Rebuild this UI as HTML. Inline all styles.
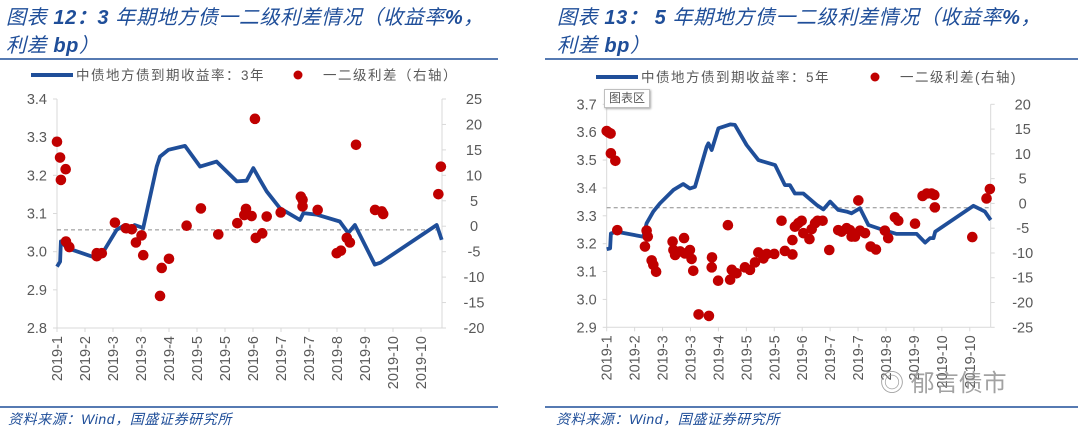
<!DOCTYPE html>
<html><head><meta charset="utf-8">
<style>
body{margin:0;background:#fff;width:1080px;height:429px;overflow:hidden;font-family:"Liberation Sans","Noto Sans CJK SC",sans-serif}
svg{position:absolute;left:0;top:0}
.t{font-family:"Liberation Sans","Noto Sans CJK SC",sans-serif;font-style:italic;fill:#1f4e99;font-size:20px;letter-spacing:0.6px}
.tk{font-family:"Liberation Sans",sans-serif;fill:#595959;font-size:14.5px}
.lg{font-family:"Liberation Sans","Noto Sans CJK SC",sans-serif;fill:#595959;font-size:13.5px;letter-spacing:1.5px}
</style></head><body>
<svg id="s" width="1080" height="429">
<text class="t" x="6" y="24">图表 <tspan font-weight="bold">12：3</tspan> 年期地方债一二级利差情况（收益率<tspan font-weight="bold">%</tspan>，</text>
<text class="t" x="6" y="52">利差 <tspan font-weight="bold">bp</tspan>）</text>
<line x1="0" y1="59" x2="498" y2="59" stroke="#1f4e99" stroke-width="1.5"/>
<text class="t" x="557" y="24">图表 <tspan font-weight="bold">13：</tspan>  <tspan font-weight="bold">5</tspan> 年期地方债一二级利差情况（收益率<tspan font-weight="bold">%</tspan>，</text>
<text class="t" x="557" y="52">利差 <tspan font-weight="bold">bp</tspan>）</text>
<line x1="545" y1="59" x2="1078" y2="59" stroke="#1f4e99" stroke-width="1.5"/>
<line x1="0" y1="407" x2="498" y2="407" stroke="#1f4e99" stroke-width="1.5"/>
<line x1="545" y1="407" x2="1078" y2="407" stroke="#1f4e99" stroke-width="1.5"/>
<text class="t" x="8" y="424" style="font-size:14px">资料来源：Wind，国盛证券研究所</text>
<text class="t" x="556" y="424" style="font-size:14px">资料来源：Wind，国盛证券研究所</text>
<g id="c1"></g><g id="c2"></g>
</svg>
<script>
const cats=["2019-1","2019-2","2019-3","2019-3","2019-4","2019-5","2019-5","2019-6","2019-7","2019-7","2019-8","2019-9","2019-10","2019-10"];
const catsB=["2019-1","2019-2","2019-3","2019-3","2019-4","2019-5","2019-5","2019-6","2019-7","2019-7","2019-8","2019-9","2019-10","2019-10"];
// chart 1: yield line [x index, value]
const line1X=[0,0.11,0.14,0.35,1.42,1.65,2.13,2.42,2.65,2.77,3.08,3.56,3.68,3.98,4.57,5.11,5.7,6.42,6.77,7.01,7.25,7.49,7.96,8.68,8.80,9.27,10.1,10.4,10.64,11.35,11.55,13.56,13.74];
const line1Y=[2.961,2.974,3.027,3.010,2.983,2.999,3.057,3.070,3.062,3.070,3.062,3.223,3.249,3.267,3.277,3.223,3.236,3.184,3.186,3.219,3.188,3.158,3.114,3.083,3.101,3.097,3.079,3.049,3.070,2.966,2.971,3.070,3.031];
const dots1X=[0,0.11,0.31,0.14,0.32,0.44,1.42,1.6,1.42,2.07,2.46,2.67,2.82,3.02,3.08,3.68,3.74,4.0,4.63,5.14,5.76,6.44,6.75,6.69,6.95,7.07,7.1,7.33,7.49,7.99,8.71,8.77,8.77,9.31,9.99,10.14,10.35,10.46,10.68,11.36,11.6,11.65,13.62,13.71];
const dots1Y=[16.6,13.5,11.2,9.1,-3.0,-4.1,-5.9,-5.3,-5.3,0.7,-0.4,-0.6,-3.2,-1.8,-5.7,-13.7,-8.2,-6.4,0.1,3.5,-1.6,0.6,3.4,2.2,2.0,21.1,-2.3,-1.4,1.9,2.7,5.8,5.2,3.9,3.2,-5.3,-4.8,-2.3,-3.2,16.0,3.2,2.9,2.4,6.3,11.7];
const ticksL1=[3.4,3.3,3.2,3.1,3.0,2.9,2.8];
const ticksR1=[25,20,15,10,5,0,-5,-10,-15,-20];
// chart 2
const line2X=[0,0.12,0.15,0.36,1.31,1.43,1.67,1.91,2.39,2.74,2.98,3.16,3.58,3.64,3.76,4.0,4.42,4.59,5.01,5.43,6.03,6.38,6.56,6.74,7.04,7.52,7.76,8.0,8.29,8.59,8.77,9.07,9.37,9.9,10.38,11.1,11.4,11.58,11.7,11.76,13.13,13.54,13.75];
const line2Y=[3.180,3.183,3.237,3.243,3.225,3.273,3.315,3.345,3.393,3.414,3.398,3.404,3.548,3.560,3.536,3.614,3.628,3.626,3.554,3.500,3.482,3.410,3.410,3.380,3.380,3.339,3.323,3.351,3.321,3.315,3.309,3.327,3.267,3.249,3.235,3.235,3.204,3.220,3.220,3.243,3.336,3.315,3.285];
const dots2X=[0,0.07,0.14,0.15,0.31,0.38,1.43,1.37,1.47,1.61,1.67,1.77,2.36,2.39,2.45,2.63,2.8,2.77,2.98,3.04,3.1,3.29,3.66,3.77,3.76,3.99,4.34,4.42,4.48,4.65,4.95,5.13,5.31,5.43,5.61,5.73,6.0,6.26,6.38,6.65,6.65,6.74,6.86,6.98,7.04,7.26,7.34,7.46,7.55,7.73,7.97,8.29,8.41,8.59,8.71,8.77,8.89,9.01,9.07,9.25,9.45,9.64,9.96,10.08,10.32,10.44,11.04,11.31,11.46,11.63,11.73,11.75,13.09,13.6,13.72];
const dots2Y=[14.6,14.3,14.1,10.1,8.6,-5.4,-5.5,-8.7,-6.7,-11.5,-12.4,-13.8,-7.7,-9.4,-10.4,-9.7,-10.1,-7.0,-9.4,-11.2,-13.6,-22.4,-22.7,-10.9,-12.9,-15.6,-4.4,-15.4,-13.4,-14.1,-12.9,-13.4,-11.9,-9.9,-11.1,-10.2,-10.2,-3.5,-9.6,-10.3,-7.4,-4.7,-4.0,-3.5,-6.0,-7.2,-5.2,-4.0,-3.5,-3.5,-9.4,-5.4,-5.7,-5.0,-5.4,-6.7,-6.7,0.6,-5.5,-6.0,-8.7,-9.3,-5.5,-7.0,-2.8,-3.5,-4.1,1.5,2.0,2.0,1.7,-0.8,-6.8,1.0,2.9];
const ticksL2=[3.7,3.6,3.5,3.4,3.3,3.2,3.1,3.0,2.9];
const ticksR2=[20,15,10,5,0,-5,-10,-15,-20,-25];

const NS="http://www.w3.org/2000/svg";
function mk(p,tag,at){const e=document.createElementNS(NS,tag);for(const k in at)e.setAttribute(k,at[k]);p.appendChild(e);return e;}

function draw(g,o){
  const xs=i=>o.x0+i*o.step;
  const yl=v=>o.yT+(o.lMax-v)/(o.lMax-o.lMin)*(o.yB-o.yT);
  const yr=v=>o.yT+(o.rMax-v)/(o.rMax-o.rMin)*(o.yB-o.yT);
  let a=mk(g,'line',{x1:o.x0,y1:o.yT,x2:o.x0,y2:o.yB,stroke:'#d9d9d9'});
  
  a=mk(g,'line',{x1:o.xR,y1:o.yT,x2:o.xR,y2:o.yB,stroke:'#d9d9d9'});
  
  a=mk(g,'line',{x1:o.x0,y1:o.yB,x2:o.xR,y2:o.yB,stroke:'#d9d9d9'});
  
  o.tl.forEach(v=>{const t=mk(g,'text',{x:o.x0-10,y:yl(v)+5,'text-anchor':'end',class:'tk'});t.textContent=v.toFixed(1);
    
    mk(g,'line',{x1:o.x0-4,y1:yl(v),x2:o.x0,y2:yl(v),stroke:'#d9d9d9'});});
  o.tr.forEach(v=>{const t=mk(g,'text',{x:o.xR+32,y:yr(v)+5,'text-anchor':'middle',class:'tk'});t.textContent=v;
    
    mk(g,'line',{x1:o.xR,y1:yr(v),x2:o.xR+4,y2:yr(v),stroke:'#d9d9d9'});});
  o.cats.forEach((c,i)=>{const x=xs(i);mk(g,'line',{x1:x,y1:o.yB,x2:x,y2:o.yB+4,stroke:'#d9d9d9'});
    const t=mk(g,'text',{x:0,y:0,transform:`translate(${x+5},${o.yB+8}) rotate(-90)`,'text-anchor':'end',class:'tk'});t.textContent=c;
    });
  a=mk(g,'line',{x1:o.x0,y1:yl(o.dash),x2:o.xR,y2:yl(o.dash),stroke:'#8c8c8c','stroke-dasharray':'4,3'});
  
  let d=o.lx.map((x,i)=>(i?'L':'M')+xs(x).toFixed(1)+','+yl(o.ly[i]).toFixed(1)).join('');
  a=mk(g,'path',{d:d,fill:'none',stroke:'#1f4e99','stroke-width':3.8,'stroke-linejoin':'round'});
  
  o.dx.forEach((x,i)=>{const c=mk(g,'circle',{cx:xs(x),cy:yr(o.dy[i]),r:5.3,fill:'#c00000'});
    });
  a=mk(g,'line',{x1:o.lgx,y1:o.lgy,x2:o.lgx+42,y2:o.lgy,stroke:'#1f4e99','stroke-width':4});
  
  let t=mk(g,'text',{x:o.lgx+45,y:o.lgy+5,class:'lg'});t.textContent=o.l1;
  
  a=mk(g,'circle',{cx:o.lgx+o.d2,cy:o.lgy,r:4.5,fill:'#c00000'});
  
  t=mk(g,'text',{x:o.lgx+o.d2+25,y:o.lgy+5,class:'lg'});t.textContent=o.l2;
  
}
draw(document.getElementById('c1'),{x0:57,step:28.0,xR:442,yT:99,yB:328,lMax:3.4,lMin:2.8,rMax:25,rMin:-20,
  tl:ticksL1,tr:ticksR1,cats:cats,dash:3.057,lx:line1X,ly:line1Y,dx:dots1X,dy:dots1Y,
  lgx:31,lgy:75,d2:267,l1:'中债地方债到期收益率：3年',l2:'一二级利差（右轴）'});
draw(document.getElementById('c2'),{x0:606.7,step:27.93,xR:990.7,yT:104.3,yB:327.3,lMax:3.7,lMin:2.9,rMax:20,rMin:-25,
  tl:ticksL2,tr:ticksR2,cats:catsB,dash:3.329,lx:line2X,ly:line2Y,dx:dots2X,dy:dots2Y,
  lgx:596,lgy:77,d2:279,l1:'中债地方债到期收益率：5年',l2:'一二级利差(右轴)'});
</script>
<div style="position:absolute;left:604px;top:89px;width:44px;height:17px;border:1px solid #bfbfbf;background:#fff;font-size:12px;color:#595959;text-align:center;line-height:17px;box-shadow:1px 1px 2px #aaa">图表区</div>
<div style="position:absolute;left:880px;top:363px;font-size:24px;color:#8c8c8c;opacity:.8">◎ 郁言债市</div>
</body></html>
